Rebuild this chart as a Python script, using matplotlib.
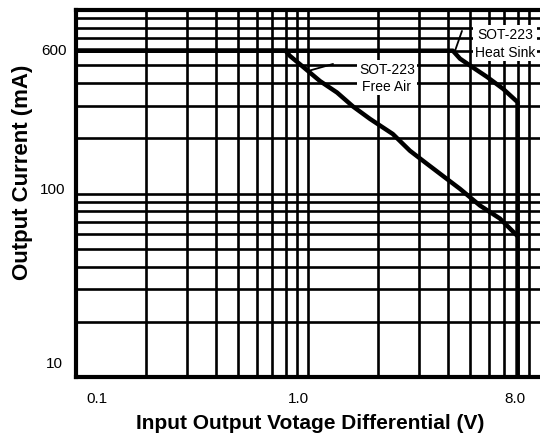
import matplotlib
matplotlib.use("Agg")
import matplotlib.pyplot as plt
import matplotlib.ticker as mticker
from matplotlib.transforms import ScaledTranslation

plt.rcParams['font.family'] = ['Liberation Sans', 'DejaVu Sans']

# Data
heat_sink_v = [0.1, 4.21, 4.52, 5.09, 5.91, 6.93, 8.0, 8.0]
heat_sink_i = [600, 600, 543, 490, 432, 372, 315, 10]

free_air_v = [0.1, 0.80, 0.836, 0.952, 1.126, 1.334, 1.563, 1.85, 2.32, 2.75,
              3.26, 3.97, 4.52, 5.51, 6.72, 7.96]
free_air_i = [600, 600, 562, 490, 410, 355, 298, 255, 211, 171,
              145, 120, 106, 86, 73, 59]

x_ticks = [0.1, 1.0, 8.0]
x_tick_labels = ['0.1', '1.0', '8.0']
y_ticks = [10, 100, 600]
y_tick_labels = ['10', '100', '600']

fig = plt.figure(figsize=(5.40, 4.39), dpi=100)
ax = fig.add_axes([76/540, 61/439, 1 - 76/540, (378-11)/439])
ax.set_xscale('log')
ax.set_yscale('log')
ax.set_xlim(0.1, 10)
ax.set_ylim(10, 1000)

ax.xaxis.set_major_locator(mticker.FixedLocator(x_ticks))
ax.xaxis.set_minor_locator(mticker.LogLocator(base=10, subs=range(2, 10)))
ax.yaxis.set_major_locator(mticker.FixedLocator(y_ticks))
ax.yaxis.set_minor_locator(mticker.LogLocator(base=10, subs=range(2, 10)))
ax.xaxis.set_minor_formatter(mticker.NullFormatter())
ax.yaxis.set_minor_formatter(mticker.NullFormatter())
ax.set_xticklabels(x_tick_labels)
ax.set_yticklabels(y_tick_labels)
ax.tick_params(which='both', length=0, labelsize=11, colors='black')
ax.tick_params(axis='x', pad=10)
ax.tick_params(axis='y', pad=9)

ax.grid(which='both', color='black', linewidth=1.9)
ax.set_axisbelow(True)

for s in ['left', 'top', 'bottom']:
    ax.spines[s].set_linewidth(3)
    ax.spines[s].set_color('black')
ax.spines['right'].set_visible(False)

ax.plot(heat_sink_v, heat_sink_i, color='black', linewidth=3.2, solid_joinstyle='round', zorder=3)
ax.plot(free_air_v, free_air_i, color='black', linewidth=3.2, solid_joinstyle='round', zorder=3)

# leader lines
ax.annotate('', xy=(1.0, 465), xytext=(1.282, 508),
            arrowprops=dict(arrowstyle='-', color='black', lw=1.3, shrinkA=0, shrinkB=0), zorder=4)
ax.annotate('', xy=(4.30, 598), xytext=(4.61, 769),
            arrowprops=dict(arrowstyle='-', color='black', lw=1.3, shrinkA=0, shrinkB=0), zorder=4)

# annotation texts
box = dict(boxstyle='square,pad=0.12', fc='white', ec='none')
ax.text(2.19, 429, 'SOT-223\nFree Air', ha='center', va='center', fontsize=10,
        linespacing=1.35, bbox=box, zorder=5)
ax.text(7.07, 661, 'SOT-223\nHeat Sink', ha='center', va='center', fontsize=10,
        linespacing=1.35, bbox=box, zorder=5)

ax.set_xlabel('Input Output Votage Differential (V)', fontsize=15, fontweight='bold')
ax.set_ylabel('Output Current (mA)', fontsize=16, fontweight='bold')
ax.xaxis.label.set_verticalalignment('center')
ax.yaxis.label.set_verticalalignment('center')
ax.xaxis.set_label_coords((310-76)/464, (378-424)/367)
ax.yaxis.set_label_coords((23-76)/464, (378-172)/367)

# label offsets (pixels)
def shift(lbl, dx, dy):
    lbl.set_transform(lbl.get_transform() + ScaledTranslation(dx/100, dy/100, fig.dpi_scale_trans))

xl = ax.get_xticklabels()
shift(xl[0], 21, 0)
shift(xl[1], -10, 0)
shift(xl[2], -3, 0)
yl = ax.get_yticklabels()
shift(yl[0], -1, 15)
shift(yl[1], 2, 6)
shift(yl[2], 3, 2)

fig.savefig('out.png', dpi=100)
